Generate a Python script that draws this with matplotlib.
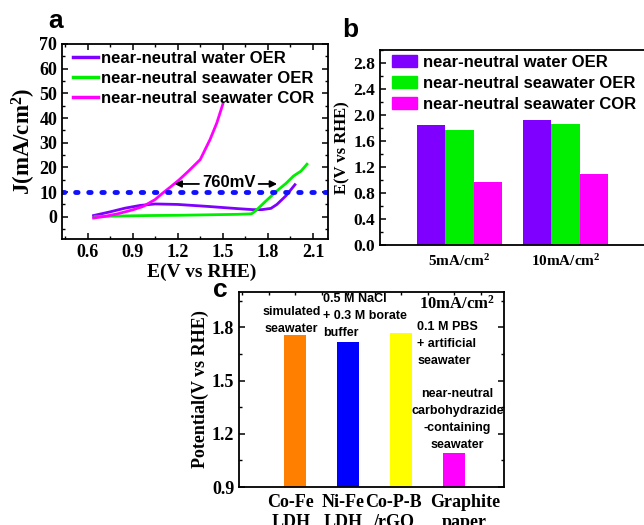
import matplotlib
matplotlib.use("Agg")
import matplotlib.pyplot as plt
import numpy as np
from matplotlib.ticker import AutoMinorLocator, MultipleLocator
from matplotlib.patches import Patch
from matplotlib.lines import Line2D

plt.rcParams['font.family'] = 'Liberation Serif'
plt.rcParams['font.weight'] = 'bold'
plt.rcParams['mathtext.fontset'] = 'custom'
plt.rcParams['mathtext.rm'] = 'Liberation Serif:bold'
plt.rcParams['mathtext.it'] = 'Liberation Serif:bold'
plt.rcParams['mathtext.bf'] = 'Liberation Serif:bold'
plt.rcParams['axes.linewidth'] = 1.3

# (a) LSV curves
E_water = [0.64, 0.75, 0.85, 0.95, 1.05, 1.2, 1.4, 1.6, 1.7, 1.76, 1.82, 1.86, 1.92, 1.98]
J_water = [0.5, 2.0, 3.5, 4.6, 5.2, 5.0, 4.2, 3.3, 2.9, 2.9, 3.4, 5.0, 8.5, 13.0]
E_sea = [0.65, 0.8, 1.0, 1.2, 1.4, 1.6, 1.69, 1.72, 1.78, 1.86, 1.92, 1.97, 2.02, 2.06]
J_sea = [0.0, 0.3, 0.5, 0.6, 0.8, 1.0, 1.2, 2.5, 6.0, 10.5, 13.5, 16.5, 18.5, 21.3]
E_cor = [0.64, 0.7, 0.8, 0.9, 0.97, 1.05, 1.1, 1.15, 1.21, 1.27, 1.35, 1.415, 1.46, 1.5]
J_cor = [-0.5, 0.0, 1.2, 2.8, 4.2, 7.0, 9.6, 12.0, 15.0, 18.4, 23.2, 31.3, 38.0, 45.6]
J_ref = 10

# (b) potentials at 5 and 10 mA/cm2
b_groups = ['5mA/cm$^{2}$', '10mA/cm$^{2}$']
b_water = [1.84, 1.92]
b_sea = [1.77, 1.86]
b_cor = [0.97, 1.10]

# (c) comparison with literature
c_names = ['Co-Fe\nLDH', 'Ni-Fe\nLDH', 'Co-P-B\n/rGO', 'Graphite\npaper']
c_values = [1.76, 1.72, 1.77, 1.09]

purple = '#7F00FF'
green = '#00EE00'
magenta = '#FF00FF'
labels = ['near-neutral water OER', 'near-neutral seawater OER', 'near-neutral seawater COR']

sans = {'family': 'Liberation Sans', 'weight': 'bold'}

def style_axes(ax):
    ax.tick_params(which='both', direction='in', top=True, right=True, labelsize=13)
    ax.tick_params(which='major', length=4, width=1.1)
    ax.tick_params(which='minor', length=2.5, width=1.0)
    for t in ax.get_xticklabels() + ax.get_yticklabels():
        t.set_fontweight('bold')

fig = plt.figure(figsize=(6.44, 5.25), dpi=100)

# panel a
ax1 = fig.add_axes([62/644, 1-239/525, 266/644, 195/525])
ax1.plot(E_water, J_water, color=purple, lw=2)
ax1.plot(E_sea, J_sea, color=green, lw=2)
ax1.plot(E_cor, J_cor, color=magenta, lw=2)
ax1.axhline(J_ref, color='#1010FF', lw=3.5, ls=(0, (0.5, 2.2)), dash_capstyle='round')
ax1.set_xlim(0.43, 2.2)
ax1.set_ylim(-9, 70)
ax1.xaxis.set_major_locator(MultipleLocator(0.3))
ax1.yaxis.set_major_locator(MultipleLocator(10))
ax1.xaxis.set_minor_locator(AutoMinorLocator(2))
ax1.yaxis.set_minor_locator(AutoMinorLocator(2))
style_axes(ax1)
ax1.set_xlabel('E(V vs RHE)', fontsize=14, fontweight='bold')
ax1.xaxis.set_label_coords(0.5 + 7/266, -0.125)
ax1.set_ylabel('J(mA/cm$^{2}$)', fontsize=16.5, fontweight='bold', labelpad=1)
ax1.text(1.54, 13.9, '760mV', ha='center', va='center', fontsize=12, fontdict=sans)
ax1.annotate('', xy=(1.16, 13.3), xytext=(1.36, 13.3),
             arrowprops=dict(arrowstyle='-|>', color='black', lw=1.3, mutation_scale=10))
ax1.annotate('', xy=(1.88, 13.3), xytext=(1.72, 13.3),
             arrowprops=dict(arrowstyle='-|>', color='black', lw=1.3, mutation_scale=10))
handles_a = [Line2D([], [], color=c, lw=2.5) for c in (purple, green, magenta)]
ax1.legend(handles_a, labels, loc='upper left', frameon=False,
           prop={'family': 'Liberation Sans', 'weight': 'bold', 'size': 12},
           handlelength=1.5, handletextpad=0.2, labelspacing=0.3,
           borderaxespad=0.0, bbox_to_anchor=(0.015, 1.0))
fig.text(48/644, 1-21/525, 'a', fontsize=19, va='center', ha='left', fontdict=sans)

# panel b
ax2 = fig.add_axes([380/644, 1-245/525, 272/644, 195/525])
x = np.arange(len(b_groups))
w = 0.27
ax2.bar(x - w, b_water, w, color=purple, label=labels[0])
ax2.bar(x, b_sea, w, color=green, label=labels[1])
ax2.bar(x + w, b_cor, w, color=magenta, label=labels[2])
ax2.set_xlim(-0.75, 1.816)
ax2.set_ylim(0, 3.0)
ax2.yaxis.set_major_locator(MultipleLocator(0.4))
ax2.yaxis.set_minor_locator(AutoMinorLocator(2))
ax2.set_xticks(x)
ax2.set_xticklabels(b_groups)
style_axes(ax2)
ax2.tick_params(axis='x', which='both', length=0, labelsize=11, pad=6)
ax2.tick_params(axis='y', labelsize=12.5)
ax2.set_ylabel('E(V vs RHE)', fontsize=12, fontweight='bold', labelpad=2)
handles_b = [Patch(color=c) for c in (purple, green, magenta)]
ax2.legend(handles_b, labels, loc='upper left', frameon=False,
           prop={'family': 'Liberation Sans', 'weight': 'bold', 'size': 12},
           handlelength=1.5, handleheight=0.8, handletextpad=0.4, labelspacing=0.35,
           borderaxespad=0.0, bbox_to_anchor=(0.018, 1.01))
fig.text(342/644, 1-30/525, 'b', fontsize=19, va='center', ha='left', fontdict=sans)

# panel c
ax3 = fig.add_axes([239/644, 1-487/525, 265/644, 195/525])
xc = np.arange(1, len(c_names) + 1)
ax3.bar(xc, c_values, 0.42, color=['#FF8000', '#0000FF', '#FFFF00', magenta])
ax3.set_xlim(-0.06, 4.94)
ax3.set_ylim(0.9, 2.0)
ax3.yaxis.set_major_locator(MultipleLocator(0.3))
ax3.yaxis.set_minor_locator(AutoMinorLocator(2))
ax3.xaxis.set_minor_locator(MultipleLocator(0.5))
ax3.set_xticks(xc + np.array([-0.08, -0.09, -0.14, 0.2]))
ax3.set_xticklabels(c_names, fontsize=11.5, linespacing=1.25)
style_axes(ax3)
ax3.tick_params(axis='x', which='major', length=0, pad=5)
ax3.tick_params(axis='x', which='minor', bottom=False)
ax3.set_ylabel('Potential(V vs RHE)', fontsize=13, fontweight='bold', labelpad=2)
ann = dict(fontsize=9, fontdict=sans, va='center', linespacing=1.55)
ax3.text(0.93, 1.84, 'simulated\nseawater', ha='center', **ann)
ax3.text(1.53, 1.867, '0.5 M NaCl\n+ 0.3 M borate\nbuffer', ha='left', **ann)
ax3.text(3.30, 1.707, '0.1 M PBS\n+ artificial\nseawater', ha='left', **ann)
ax3.text(4.06, 1.282, 'near-neutral\ncarbohydrazide\n-containing\nseawater', ha='center', **ann)
ax3.text(4.06, 1.935, '10mA/cm$^{2}$', ha='center', va='center', fontsize=12, fontweight='bold')
fig.text(213/644, 1-290/525, 'c', fontsize=19, va='center', ha='left', fontdict=sans)

fig.savefig('out.png', dpi=100)
